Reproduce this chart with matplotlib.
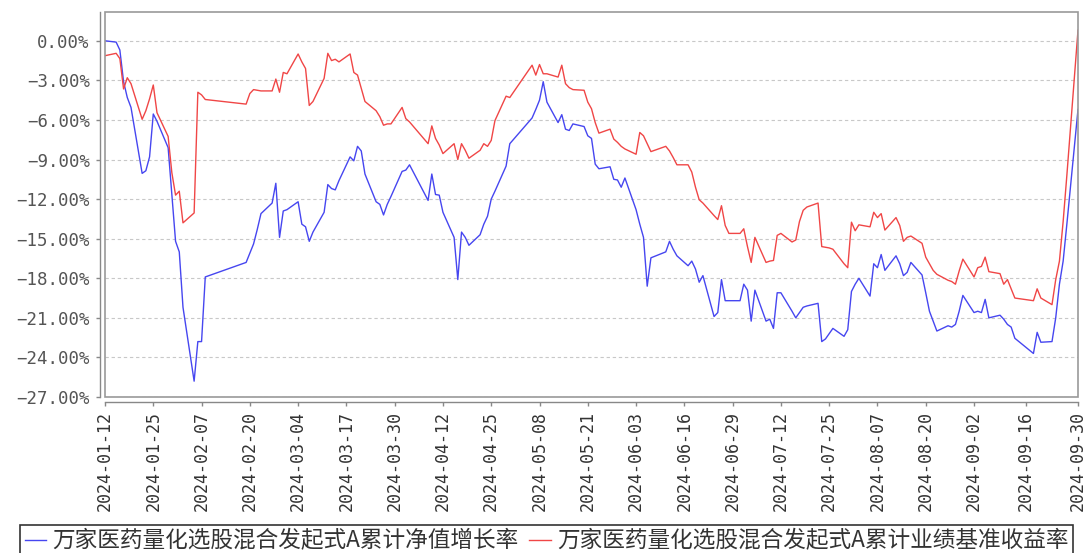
import matplotlib
matplotlib.use('Agg')
import matplotlib.pyplot as plt
from matplotlib.patches import Rectangle
from matplotlib.font_manager import FontProperties
import pandas as pd

# trading days (2024) and the two cumulative return series, in %
dates = [
    '2024-01-12', '2024-01-15', '2024-01-16', '2024-01-17', '2024-01-18', '2024-01-19',
    '2024-01-22', '2024-01-23', '2024-01-24', '2024-01-25', '2024-01-26',
    '2024-01-29', '2024-01-30', '2024-01-31', '2024-02-01', '2024-02-02',
    '2024-02-05', '2024-02-06', '2024-02-07', '2024-02-08',
    '2024-02-19', '2024-02-20', '2024-02-21', '2024-02-22', '2024-02-23',
    '2024-02-26', '2024-02-27', '2024-02-28', '2024-02-29', '2024-03-01',
    '2024-03-04', '2024-03-05', '2024-03-06', '2024-03-07', '2024-03-08',
    '2024-03-11', '2024-03-12', '2024-03-13', '2024-03-14', '2024-03-15',
    '2024-03-18', '2024-03-19', '2024-03-20', '2024-03-21', '2024-03-22',
    '2024-03-25', '2024-03-26', '2024-03-27', '2024-03-28', '2024-03-29',
    '2024-04-01', '2024-04-02', '2024-04-03',
    '2024-04-08', '2024-04-09', '2024-04-10', '2024-04-11', '2024-04-12',
    '2024-04-15', '2024-04-16', '2024-04-17', '2024-04-18', '2024-04-19',
    '2024-04-22', '2024-04-23', '2024-04-24', '2024-04-25', '2024-04-26',
    '2024-04-29', '2024-04-30',
    '2024-05-06', '2024-05-07', '2024-05-08', '2024-05-09', '2024-05-10',
    '2024-05-13', '2024-05-14', '2024-05-15', '2024-05-16', '2024-05-17',
    '2024-05-20', '2024-05-21', '2024-05-22', '2024-05-23', '2024-05-24',
    '2024-05-27', '2024-05-28', '2024-05-29', '2024-05-30', '2024-05-31',
    '2024-06-03', '2024-06-04', '2024-06-05', '2024-06-06', '2024-06-07',
    '2024-06-11', '2024-06-12', '2024-06-13', '2024-06-14',
    '2024-06-17', '2024-06-18', '2024-06-19', '2024-06-20', '2024-06-21',
    '2024-06-24', '2024-06-25', '2024-06-26', '2024-06-27', '2024-06-28',
    '2024-07-01', '2024-07-02', '2024-07-03', '2024-07-04', '2024-07-05',
    '2024-07-08', '2024-07-09', '2024-07-10', '2024-07-11', '2024-07-12',
    '2024-07-15', '2024-07-16', '2024-07-17', '2024-07-18', '2024-07-19',
    '2024-07-22', '2024-07-23', '2024-07-24', '2024-07-25', '2024-07-26',
    '2024-07-29', '2024-07-30', '2024-07-31', '2024-08-01', '2024-08-02',
    '2024-08-05', '2024-08-06', '2024-08-07', '2024-08-08', '2024-08-09',
    '2024-08-12', '2024-08-13', '2024-08-14', '2024-08-15', '2024-08-16',
    '2024-08-19', '2024-08-20', '2024-08-21', '2024-08-22', '2024-08-23',
    '2024-08-26', '2024-08-27', '2024-08-28', '2024-08-29', '2024-08-30',
    '2024-09-02', '2024-09-03', '2024-09-04', '2024-09-05', '2024-09-06',
    '2024-09-09', '2024-09-10', '2024-09-11', '2024-09-12', '2024-09-13',
    '2024-09-18', '2024-09-19', '2024-09-20',
    '2024-09-23', '2024-09-24', '2024-09-25', '2024-09-26', '2024-09-27',
    '2024-09-30',
]

nav_growth = [
    0.0, -0.1, -0.7, -3.1, -4.3, -5.05,
    -10.05, -9.85, -8.8, -5.55, -6.1,
    -8.1, -11.6, -15.2, -16.0, -20.2,
    -25.8, -22.8, -22.8, -17.9,
    -16.8, -16.1, -15.4, -14.3, -13.1,
    -12.3, -10.8, -14.9, -12.9, -12.8,
    -12.2, -13.9, -14.1, -15.2, -14.5,
    -13.0, -10.9, -11.2, -11.3, -10.6,
    -8.8, -9.1, -8.0, -8.35, -10.1,
    -12.2, -12.4, -13.2, -12.4, -11.8,
    -9.9, -9.8, -9.4,
    -12.1, -10.1, -11.65, -11.7, -13.0,
    -14.9, -18.1, -14.5, -14.9, -15.5,
    -14.7, -13.9, -13.3, -12.0, -11.4,
    -9.5, -7.8,
    -5.85, -5.2, -4.5, -3.1, -4.65,
    -6.2, -5.6, -6.7, -6.8, -6.3,
    -6.5, -7.2, -7.4, -9.35, -9.7,
    -9.55, -10.5, -10.55, -11.1, -10.4,
    -12.8, -13.9, -14.9, -18.6, -16.45,
    -16.0, -15.2, -15.8, -16.3,
    -17.05, -16.7, -17.3, -18.3, -17.8,
    -20.9, -20.6, -18.1, -19.7, -19.7,
    -19.7, -18.45, -18.9, -21.25, -18.9,
    -21.25, -21.1, -21.8, -19.1, -19.1,
    -20.5, -21.0, -20.6, -20.2, -20.1,
    -19.9, -22.8, -22.6, -22.2, -21.8,
    -22.4, -21.9, -19.0, -18.45, -18.0,
    -19.35, -16.9, -17.2, -16.2, -17.4,
    -16.3, -16.9, -17.8, -17.55, -16.8,
    -17.75, -19.1, -20.5, -21.25, -22.0,
    -21.6, -21.7, -21.5, -20.5, -19.3,
    -20.6, -20.5, -20.6, -19.6, -21.0,
    -20.8, -21.1, -21.5, -21.7, -22.55,
    -23.7, -22.1, -22.85,
    -22.8, -21.0, -18.45, -16.7, -13.9,
    -5.2,
]

benchmark = [
    -1.13, -0.95, -1.35, -3.65, -2.8, -3.25,
    -5.95, -5.3, -4.4, -3.35, -5.45,
    -7.25, -10.0, -11.7, -11.4, -13.8,
    -13.05, -3.9, -4.1, -4.45,
    -4.8, -4.0, -3.7, -3.75, -3.8,
    -3.8, -2.9, -3.9, -2.4, -2.5,
    -1.0, -1.6, -2.1, -4.9, -4.6,
    -2.85, -0.95, -1.5, -1.4, -1.6,
    -1.0, -2.4, -2.6, -3.6, -4.6,
    -5.3, -5.75, -6.4, -6.3, -6.3,
    -5.05, -5.9, -6.15,
    -7.8, -6.45, -7.4, -7.9, -8.55,
    -7.8, -9.0, -7.8, -8.3, -8.9,
    -8.3, -7.8, -8.0, -7.55, -6.05,
    -4.2, -4.3,
    -1.85, -2.6, -1.8, -2.5, -2.5,
    -2.75, -1.85, -3.25, -3.55, -3.7,
    -3.75, -4.65, -5.15, -6.2, -7.0,
    -6.7, -7.45, -7.7, -8.0, -8.2,
    -8.6, -6.95, -7.2, -7.8, -8.4,
    -8.0, -8.35, -8.85, -9.4,
    -9.4, -9.95, -11.1, -12.05, -12.3,
    -13.25, -13.55, -12.5, -14.0, -14.6,
    -14.6, -14.25, -15.6, -16.8, -14.9,
    -16.8, -16.7, -16.65, -14.75, -14.6,
    -15.25, -15.1, -13.7, -12.85, -12.6,
    -12.3, -15.6, -15.65, -15.7, -15.8,
    -16.9, -17.2, -13.75, -14.4, -13.95,
    -14.1, -13.0, -13.4, -13.1, -14.35,
    -13.4, -14.0, -15.2, -14.9, -14.8,
    -15.35, -16.4, -16.9, -17.4, -17.7,
    -18.15, -18.25, -18.45, -17.45, -16.55,
    -17.9, -17.2, -17.1, -16.4, -17.5,
    -17.65, -18.45, -18.1, -18.8, -19.5,
    -19.7, -18.8, -19.5,
    -20.0, -18.1, -16.7, -13.7, -10.2,
    0.8,
]

tick_dates = [
    '2024-01-12', '2024-01-25', '2024-02-07', '2024-02-20', '2024-03-04',
    '2024-03-17', '2024-03-30', '2024-04-12', '2024-04-25', '2024-05-08',
    '2024-05-21', '2024-06-03', '2024-06-16', '2024-06-29', '2024-07-12',
    '2024-07-25', '2024-08-07', '2024-08-20', '2024-09-02', '2024-09-16',
    '2024-09-30',
]
y_ticks = [0, -3, -6, -9, -12, -15, -18, -21, -24, -27]

label_nav = '万家医药量化选股混合发起式A累计净值增长率'
label_bench = '万家医药量化选股混合发起式A累计业绩基准收益率'

fig = plt.figure(figsize=(10.85, 5.53), dpi=100)
ax = fig.add_axes([105 / 1085, 1 - 397 / 553, 973 / 1085, 385.5 / 553])

# offset axis lines first (set_position resets the ticks)
for s in ['top', 'right']:
    ax.spines[s].set_visible(False)
for s in ['left', 'bottom']:
    ax.spines[s].set_position(('outward', 3.6))
    ax.spines[s].set_color('#888888')
    ax.spines[s].set_linewidth(1.0)
ax.add_patch(Rectangle((0, 0), 1, 1, transform=ax.transAxes, fill=False,
                       edgecolor='#999999', lw=1.2, clip_on=False, zorder=5))

x = pd.to_datetime(dates)
ax.plot(x, nav_growth, color='#4646f0', lw=1.0, label=label_nav, zorder=4)
ax.plot(x, benchmark, color='#f04646', lw=1.0, label=label_bench, zorder=4)

ax.set_xlim(pd.Timestamp('2024-01-12'), pd.Timestamp('2024-09-30'))
ax.set_ylim(-27, 2.22)

mono = 'DejaVu Sans Mono'
ax.set_yticks(y_ticks)
ax.set_yticklabels([f'{v:.2f}%'.replace('-', '\u2212') for v in y_ticks])
ax.set_xticks(pd.to_datetime(tick_dates))
ax.set_xticklabels(tick_dates)
for t in ax.get_yticklabels():
    t.set_fontfamily(mono)
    t.set_fontsize(12.5)
    t.set_color('#555555')
for t in ax.get_xticklabels():
    t.set_fontfamily(mono)
    t.set_fontsize(12)
    t.set_color('#333333')
    t.set_rotation(90)

ax.yaxis.grid(True, color='#c8c8c8', linestyle=(0, (3, 2.5)), lw=0.8)
ax.set_axisbelow(True)

ax.tick_params(axis='y', direction='out', length=3, width=1, color='#888888', pad=4.3)
ax.tick_params(axis='x', direction='out', length=3, width=1, color='#888888', pad=3.6)

leg = fig.legend(loc='upper left', bbox_to_anchor=(20 / 1085, 1 - 525 / 553),
                 ncol=2, frameon=True, fancybox=False, edgecolor='black',
                 borderaxespad=0, prop=FontProperties(family=['Noto Sans CJK SC', 'DejaVu Sans'], size=16.3),
                 handlelength=0.95, handletextpad=0.27, columnspacing=0.49, borderpad=0.2)
leg.get_frame().set_linewidth(1.2)
for t in leg.get_texts():
    t.set_color('#333333')

fig.savefig('out.png', dpi=100)
